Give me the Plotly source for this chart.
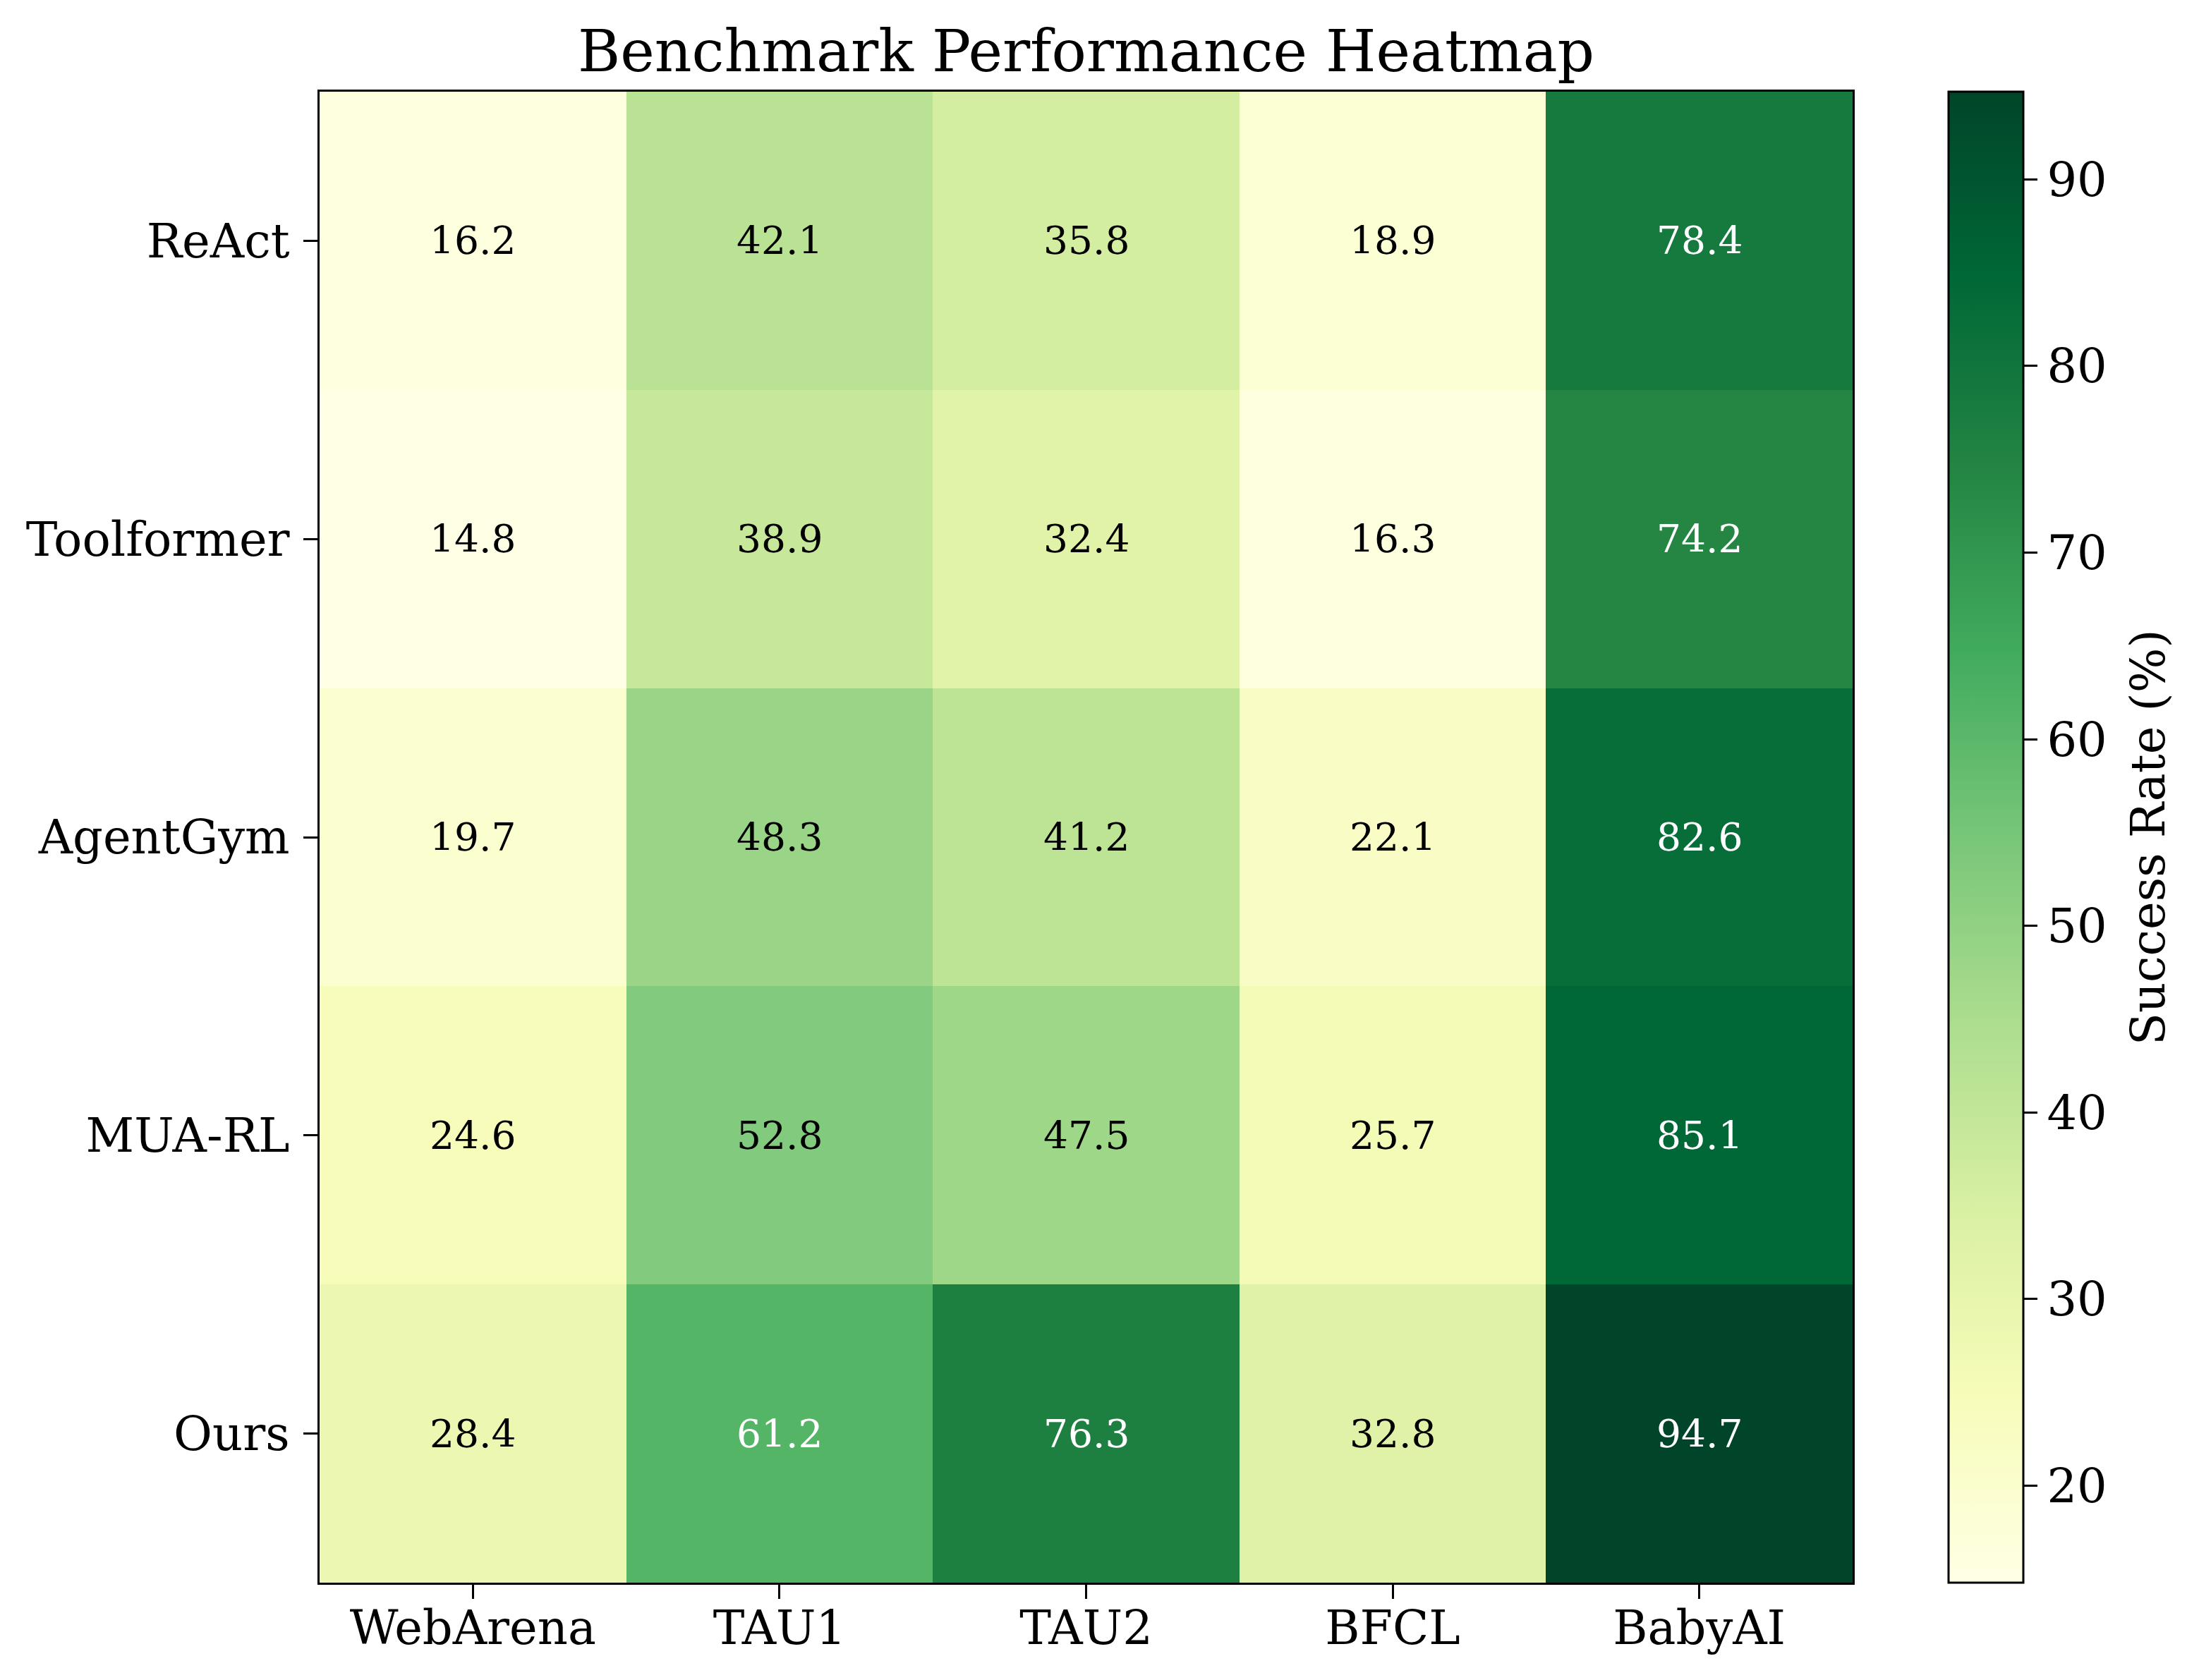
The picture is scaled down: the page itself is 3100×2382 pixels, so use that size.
import plotly.graph_objects as go

methods = ["ReAct", "Toolformer", "AgentGym", "MUA-RL", "Ours"]
benchmarks = ["WebArena", "TAU1", "TAU2", "BFCL", "BabyAI"]
react = [16.2, 42.1, 35.8, 18.9, 78.4]
toolformer = [14.8, 38.9, 32.4, 16.3, 74.2]
agentgym = [19.7, 48.3, 41.2, 22.1, 82.6]
muarl = [24.6, 52.8, 47.5, 25.7, 85.1]
ours = [28.4, 61.2, 76.3, 32.8, 94.7]
colorbar_ticks = [20, 30, 40, 50, 60, 70, 80, 90]

z = [react, toolformer, agentgym, muarl, ours]
zmin = min(min(r) for r in z)
zmax = max(max(r) for r in z)
threshold = (zmin + zmax) / 2

YLGN = ['rgb(255,255,229)', 'rgb(247,252,185)', 'rgb(217,240,163)', 'rgb(173,221,142)',
        'rgb(120,198,121)', 'rgb(65,171,93)', 'rgb(35,132,67)', 'rgb(0,104,55)', 'rgb(0,69,41)']
colorscale = [[i / (len(YLGN) - 1), c] for i, c in enumerate(YLGN)]

FONT = "DejaVu Serif"
W, H = 3100, 2382
L, R, T, B = 453, 2626, 130, 2244

fig = go.Figure(go.Heatmap(
    z=z, x=benchmarks, y=methods, zmin=zmin, zmax=zmax, colorscale=colorscale,
    showscale=True,
    colorbar=dict(
        x=(2762 - L) / (R - L), xanchor="left", xref="paper",
        y=0.5, yanchor="middle", len=1, lenmode="fraction",
        thickness=106, thicknessmode="pixels", xpad=0, ypad=0,
        outlinecolor="black", outlinewidth=3,
        tickmode="array", tickvals=colorbar_ticks,
        ticks="outside", ticklen=19, tickwidth=3, tickcolor="black",
        tickfont=dict(family=FONT, size=67, color="black"),
    ),
))

annotations = []
for i, m in enumerate(methods):
    for j, b in enumerate(benchmarks):
        v = z[i][j]
        annotations.append(dict(
            x=b, y=m, xref="x", yref="y", text=f"{v:.1f}", showarrow=False,
            font=dict(family=FONT, size=55, color="white" if v > threshold else "black"),
        ))

# colorbar label
annotations.append(dict(
    text="Success Rate (%)", xref="paper", yref="paper",
    x=(3045 - L) / (R - L), y=0.5, xanchor="center", yanchor="middle",
    textangle=-90, showarrow=False,
    font=dict(family=FONT, size=67, color="black"),
))

fig.update_layout(
    width=W, height=H,
    margin=dict(l=L, r=W - R, t=T, b=H - B, pad=0, autoexpand=False),
    paper_bgcolor="white", plot_bgcolor="white",
    title=dict(text="Benchmark Performance Heatmap", x=(L + R) / 2 / W, xanchor="center",
               y=1 - 72 / H, yanchor="middle",
               font=dict(family=FONT, size=82, color="black")),
    annotations=annotations,
    font=dict(family=FONT, color="black"),
)
fig.update_xaxes(
    automargin=False,
    showline=True, mirror=True, linecolor="black", linewidth=3,
    ticks="outside", ticklen=20, tickwidth=3, tickcolor="black",
    ticklabelstandoff=-16,
    tickfont=dict(family=FONT, size=67, color="black"),
    showgrid=False, zeroline=False,
)
fig.update_yaxes(
    automargin=False,
    autorange="reversed",
    showline=True, mirror=True, linecolor="black", linewidth=3,
    ticks="outside", ticklen=20, tickwidth=3, tickcolor="black",
    ticklabelstandoff=6,
    tickfont=dict(family=FONT, size=67, color="black"),
    showgrid=False, zeroline=False,
)

fig.write_html("out.html", config={"displayModeBar": False},
               post_script="document.body.style.margin='0';document.body.style.padding='0';")
